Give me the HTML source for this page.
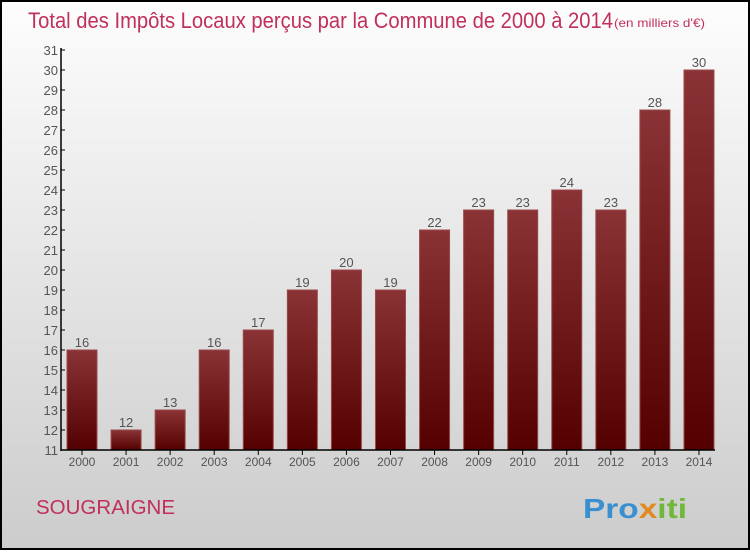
<!DOCTYPE html>
<html><head><meta charset="utf-8"><style>
body{margin:0;width:750px;height:550px;overflow:hidden;font-family:"Liberation Sans",sans-serif}
</style></head><body>
<svg width="750" height="550" xmlns="http://www.w3.org/2000/svg">
<defs>
<linearGradient id="bg" x1="0" y1="0" x2="0" y2="1"><stop offset="0" stop-color="#fdfdfd"/><stop offset="1" stop-color="#cccccc"/></linearGradient>
<linearGradient id="bar" x1="0" y1="0" x2="0" y2="1"><stop offset="0" stop-color="#8a3336"/><stop offset="1" stop-color="#540000"/></linearGradient>
</defs>
<rect x="1" y="1" width="748" height="548" fill="url(#bg)" stroke="#000" stroke-width="2"/>
<text x="28" y="28" font-size="22" fill="#c0305a" textLength="585" lengthAdjust="spacingAndGlyphs">Total des Impôts Locaux perçus par la Commune de 2000 à 2014</text>
<text x="614" y="27" font-size="12" fill="#c0305a" textLength="91" lengthAdjust="spacingAndGlyphs">(en milliers d'€)</text>
<g id="plot"></g>
<text x="36" y="514" font-size="20" fill="#c0305a" textLength="139" lengthAdjust="spacingAndGlyphs">SOUGRAIGNE</text>
<text x="583" y="518" font-size="28" font-weight="bold" textLength="104" lengthAdjust="spacingAndGlyphs"><tspan fill="#3a8fd0">Pro</tspan><tspan fill="#e08a20">x</tspan><tspan fill="#6fb83a">iti</tspan></text>
</svg>
<script>
const years=["2000","2001","2002","2003","2004","2005","2006","2007","2008","2009","2010","2011","2012","2013","2014"];
const values=[16,12,13,16,17,19,20,19,22,23,23,24,23,28,30];
const yTicks=[11,12,13,14,15,16,17,18,19,20,21,22,23,24,25,26,27,28,29,30,31];
const NS="http://www.w3.org/2000/svg";
const g=document.getElementById('plot');
const y=v=>450-(v-11)*20;
const x=i=>82+i*44.07;
function el(t,a){const e=document.createElementNS(NS,t);for(const k in a)e.setAttribute(k,a[k]);g.appendChild(e);return e;}
yTicks.forEach(t=>{
  const l=el('line',{x1:61,x2:65,y1:y(t),y2:y(t),stroke:'#000'});
  
  
  const tx=el('text',{x:58,y:y(t)+5,'text-anchor':'end','font-size':13,fill:'#555'});
  tx.textContent=t;
  
  
});
values.forEach((v,i)=>{
  const r=el('rect',{x:x(i)-15,y:y(v),width:30,height:450-y(v),fill:'url(#bar)',stroke:'#9a4a4a','stroke-width':1});
  
  
  const lb=el('text',{x:x(i),y:y(v)-3,'text-anchor':'middle','font-size':13,fill:'#555'});
  lb.textContent=v;
  
  
  const tk=el('line',{x1:x(i),x2:x(i),y1:450,y2:455,stroke:'#000'});
  
  
  const xl=el('text',{x:x(i),y:466,'text-anchor':'middle','font-size':12,fill:'#555'});
  xl.textContent=years[i];
  
  
});
const ya=el('line',{x1:61,x2:61,y1:48,y2:451,stroke:'#000','stroke-width':1.5});


const xa=el('line',{x1:61,x2:715,y1:450,y2:450,stroke:'#000','stroke-width':1.5});


</script>
</body></html>
